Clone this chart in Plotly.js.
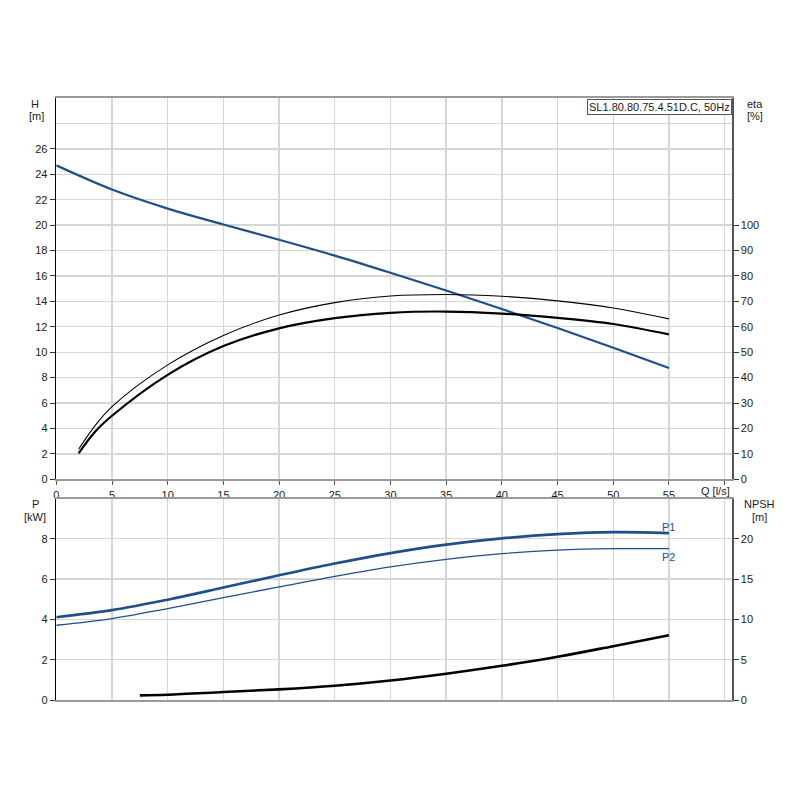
<!DOCTYPE html>
<html>
<head>
<meta charset="utf-8">
<script src="https://cdn.plot.ly/plotly-3.0.1.min.js"></script>
<style>
  html, body { margin: 0; padding: 0; background: #ffffff; }
  #chart { width: 800px; height: 800px; }
</style>
</head>
<body>
<div id="chart"></div>
<script>
// flow rate Q [l/s]
const flow = [0, 5, 10, 15, 20, 25, 30, 35, 40, 45, 50, 55];
const head = [24.7, 22.8, 21.3, 20.05, 18.85, 17.6, 16.25, 14.85, 13.4, 11.9, 10.35, 8.75];
const power1 = [4.11, 4.46, 4.98, 5.58, 6.19, 6.77, 7.29, 7.71, 8.02, 8.23, 8.33, 8.28];
const power2 = [3.71, 4.04, 4.54, 5.08, 5.61, 6.14, 6.61, 6.98, 7.26, 7.44, 7.51, 7.51];

const flowEta = [2, 3.5, 5, 10, 15, 20, 25, 30, 35, 40, 45, 50, 55];
const etaPump = [11.8, 21.2, 28.6, 45.0, 56.6, 64.6, 69.5, 72.1, 72.7, 72.0, 70.2, 67.4, 63.1];
const etaTotal = [10.2, 18.8, 25.0, 41.1, 52.4, 59.4, 63.4, 65.5, 66.0, 65.2, 63.5, 61.1, 57.0];

const flowNpsh = [7.5, 10, 15, 20, 25, 30, 35, 40, 45, 50, 55];
const npsh = [0.58, 0.66, 0.99, 1.32, 1.77, 2.42, 3.26, 4.24, 5.36, 6.68, 8.04];

const flowTicks = [0, 5, 10, 15, 20, 25, 30, 35, 40, 45, 50, 55];
const headTicks = [0, 2, 4, 6, 8, 10, 12, 14, 16, 18, 20, 22, 24, 26];
const etaTicks = [0, 10, 20, 30, 40, 50, 60, 70, 80, 90, 100];
const powerTicks = [0, 2, 4, 6, 8];
const npshTicks = [0, 5, 10, 15, 20];

const pumpName = "SL1.80.80.75.4.51D.C, 50Hz";

const BLUE = "#1f4f8b";
const GRID = "#d6d6d6";
const FONT = { family: "Liberation Sans, Arial, sans-serif", size: 11, color: "#1a1a1a" };

// page pixel -> paper fraction
const px = (x) => x / 800;
const py = (y) => 1 - y / 800;

const xDomain = [px(56.3), px(732)];
const xRange = [0, 60.66];

function sideLabel(text, x, y) {
  return {
    text, xref: "paper", yref: "paper", x: px(x), y: py(y),
    xanchor: "center", yanchor: "middle", showarrow: false, font: FONT,
  };
}

const traces = [
  {
    x: flow, y: head, xaxis: "x", yaxis: "y", type: "scatter", mode: "lines",
    line: { color: BLUE, width: 2.2, shape: "spline" }, name: "H",
  },
  {
    x: flowEta, y: etaPump, xaxis: "x", yaxis: "y2", type: "scatter", mode: "lines",
    line: { color: "#000000", width: 1.1, shape: "spline" }, name: "eta pump",
  },
  {
    x: flowEta, y: etaTotal, xaxis: "x", yaxis: "y2", type: "scatter", mode: "lines",
    line: { color: "#000000", width: 2.2, shape: "spline" }, name: "eta total",
  },
  {
    x: flow, y: power1, xaxis: "x2", yaxis: "y3", type: "scatter", mode: "lines",
    line: { color: BLUE, width: 2.6, shape: "spline" }, name: "P1",
  },
  {
    x: flow, y: power2, xaxis: "x2", yaxis: "y3", type: "scatter", mode: "lines",
    line: { color: BLUE, width: 1.3, shape: "spline" }, name: "P2",
  },
  {
    x: flowNpsh, y: npsh, xaxis: "x2", yaxis: "y4", type: "scatter", mode: "lines",
    line: { color: "#000000", width: 2.6, shape: "spline" }, name: "NPSH",
  },
];

const topDomain = [py(479.3), py(98)];
const bottomDomain = [py(700), py(498.5)];

const layout = {
  width: 800,
  height: 800,
  margin: { l: 0, r: 0, t: 0, b: 0 },
  paper_bgcolor: "#ffffff",
  plot_bgcolor: "#ffffff",
  showlegend: false,
  font: FONT,
  xaxis: {
    domain: xDomain, range: xRange, anchor: "y",
    tickmode: "array", tickvals: flowTicks,
    ticks: "outside", ticklen: 4, tickcolor: "#555", tickfont: FONT,
    showgrid: true, gridcolor: GRID, gridwidth: 1.4,
    minor: { tickmode: "array", tickvals: [60], showgrid: true, gridcolor: GRID, gridwidth: 1.4, ticks: "outside", ticklen: 4, tickcolor: "#555" },
    showline: true, linecolor: "#9a9a9a", linewidth: 2, mirror: true,
    zeroline: false, fixedrange: true,
  },
  yaxis: {
    domain: topDomain, range: [0, 30], anchor: "x",
    tickmode: "array", tickvals: headTicks,
    ticks: "outside", ticklen: 5, tickcolor: "#333", tickfont: FONT,
    showgrid: true, gridcolor: GRID, gridwidth: 1.4,
    minor: { tickmode: "array", tickvals: [28], showgrid: true, gridcolor: GRID, gridwidth: 1.4, ticks: "" },
    showline: true, linecolor: "#000000", linewidth: 1.6,
    zeroline: false, fixedrange: true,
  },
  yaxis2: {
    range: [0, 150], overlaying: "y", side: "right", anchor: "x",
    tickmode: "array", tickvals: etaTicks,
    ticks: "outside", ticklen: 5, tickcolor: "#333", tickfont: FONT,
    showgrid: false, showline: true, linecolor: "#555555", linewidth: 1.6,
    zeroline: false, fixedrange: true,
  },
  xaxis2: {
    domain: xDomain, range: xRange, anchor: "y3", matches: "x",
    tickmode: "array", tickvals: flowTicks.concat([60]),
    showticklabels: false, ticks: "",
    showgrid: true, gridcolor: GRID, gridwidth: 1.4,
    showline: true, linecolor: "#9a9a9a", linewidth: 2, mirror: true,
    zeroline: false, fixedrange: true,
  },
  yaxis3: {
    domain: bottomDomain, range: [0, 10], anchor: "x2",
    tickmode: "array", tickvals: powerTicks,
    ticks: "outside", ticklen: 5, tickcolor: "#333", tickfont: FONT,
    showgrid: true, gridcolor: GRID, gridwidth: 1.4,
    showline: true, linecolor: "#000000", linewidth: 1.6,
    zeroline: false, fixedrange: true,
  },
  yaxis4: {
    range: [0, 25], overlaying: "y3", side: "right", anchor: "x2",
    tickmode: "array", tickvals: npshTicks,
    ticks: "outside", ticklen: 5, tickcolor: "#333", tickfont: FONT,
    showgrid: false, showline: true, linecolor: "#555555", linewidth: 1.6,
    zeroline: false, fixedrange: true,
  },
  annotations: [
    sideLabel("H", 35, 104),
    sideLabel("[m]", 36, 116),
    sideLabel("eta", 755, 104),
    sideLabel("[%]", 755, 116),
    sideLabel("P", 35, 504),
    sideLabel("[kW]", 35, 517),
    sideLabel("NPSH", 759, 504),
    sideLabel("[m]", 759, 517),
    sideLabel("Q [l/s]", 715, 491),
    {
      text: pumpName, xref: "paper", yref: "paper", x: px(731.5), y: py(98.5),
      xanchor: "right", yanchor: "top", showarrow: false, font: FONT,
      bgcolor: "#ffffff", bordercolor: "#555555", borderwidth: 1, borderpad: 1,
    },
    {
      text: "P1", xref: "x2", yref: "y3",
      x: flow[flow.length - 1], y: power1[power1.length - 1],
      xanchor: "center", yanchor: "middle", yshift: 6, showarrow: false,
      font: { ...FONT, color: BLUE },
    },
    {
      text: "P2", xref: "x2", yref: "y3",
      x: flow[flow.length - 1], y: power2[power2.length - 1],
      xanchor: "center", yanchor: "middle", yshift: -8, showarrow: false,
      font: { ...FONT, color: BLUE },
    },
  ],
};

Plotly.newPlot("chart", traces, layout, { displayModeBar: false, staticPlot: true });
</script>
</body>
</html>
